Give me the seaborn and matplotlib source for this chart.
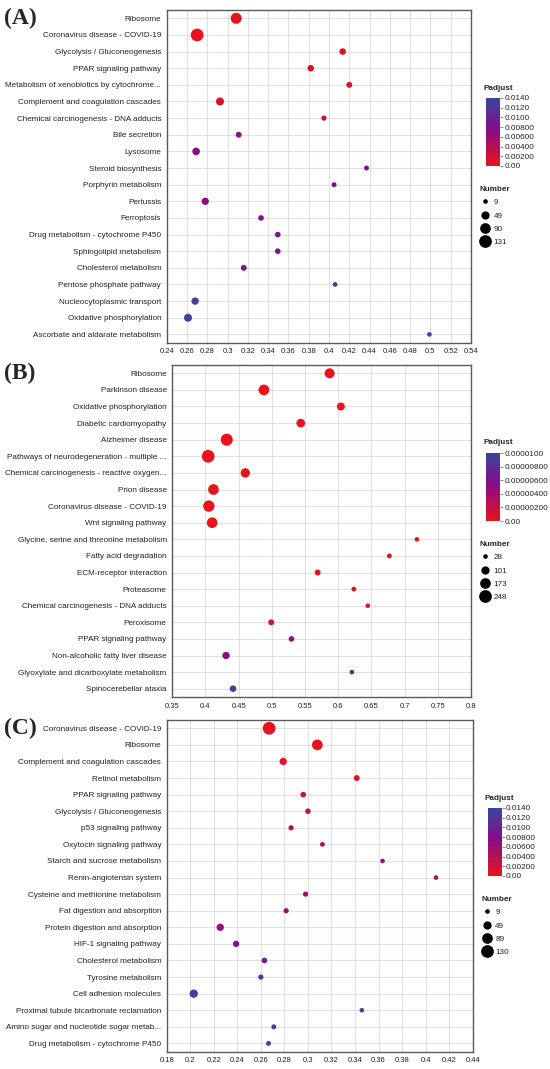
import numpy as np
import pandas as pd
import matplotlib
matplotlib.use("Agg")
import matplotlib.pyplot as plt
import seaborn as sns
from matplotlib.colors import LinearSegmentedColormap, Normalize
from matplotlib.cm import ScalarMappable
from matplotlib.lines import Line2D

sns.set_style("white")
plt.rcParams['font.family'] = ['Liberation Sans', 'DejaVu Sans']

# ---------------- data ----------------
terms_a = ["Ribosome", "Coronavirus disease - COVID-19", "Glycolysis / Gluconeogenesis",
           "PPAR signaling pathway", "Metabolism of xenobiotics by cytochrome...",
           "Complement and coagulation cascades", "Chemical carcinogenesis - DNA adducts",
           "Bile secretion", "Lysosome", "Steroid biosynthesis", "Porphyrin metabolism",
           "Pertussis", "Ferroptosis", "Drug metabolism - cytochrome P450",
           "Sphingolipid metabolism", "Cholesterol metabolism", "Pentose phosphate pathway",
           "Nucleocytoplasmic transport", "Oxidative phosphorylation",
           "Ascorbate and aldarate metabolism"]
ratio_a = [0.3085, 0.270, 0.4135, 0.382, 0.420, 0.2925, 0.395, 0.311, 0.269, 0.437,
           0.405, 0.278, 0.333, 0.3495, 0.3495, 0.316, 0.406, 0.268, 0.261, 0.499]
number_a = [96, 131, 28, 28, 21, 46, 14, 21, 41, 12, 12, 37, 18, 18, 18, 21, 10, 37, 46, 9]
padj_a = [0.0003, 0.0001, 0.0008, 0.0010, 0.0012, 0.0012, 0.0030, 0.0070, 0.0072, 0.0075,
          0.0077, 0.0076, 0.0080, 0.0085, 0.0085, 0.0095, 0.0128, 0.0130, 0.0135, 0.0138]
xticks_a = [0.24, 0.26, 0.28, 0.30, 0.32, 0.34, 0.36, 0.38, 0.40, 0.42, 0.44, 0.46,
            0.48, 0.50, 0.52, 0.54]
cbar_ticks_a = [0.0, 0.002, 0.004, 0.006, 0.008, 0.010, 0.012, 0.014]
cbar_labels_a = ["0.00", "0.00200", "0.00400", "0.00600", "0.00800", "0.0100", "0.0120", "0.0140"]
size_legend_a = [9, 49, 90, 131]

terms_b = ["Ribosome", "Parkinson disease", "Oxidative phosphorylation",
           "Diabetic cardiomyopathy", "Alzheimer disease",
           "Pathways of neurodegeneration - multiple ...",
           "Chemical carcinogenesis - reactive oxygen...", "Prion disease",
           "Coronavirus disease - COVID-19", "Wnt signaling pathway",
           "Glycine, serine and threonine metabolism", "Fatty acid degradation",
           "ECM-receptor interaction", "Proteasome", "Chemical carcinogenesis - DNA adducts",
           "Peroxisome", "PPAR signaling pathway", "Non-alcoholic fatty liver disease",
           "Glyoxylate and dicarboxylate metabolism", "Spinocerebellar ataxia"]
ratio_b = [0.587, 0.488, 0.604, 0.5435, 0.432, 0.404, 0.460, 0.412, 0.405, 0.410,
           0.7185, 0.677, 0.569, 0.6235, 0.6445, 0.499, 0.5295, 0.431, 0.6205, 0.4415]
number_b = [151, 174, 94, 112, 221, 248, 131, 174, 196, 174, 28, 33, 50, 30, 28, 50, 44, 79, 28, 63]
padj_b = [1e-9, 1e-9, 1e-9, 2e-8, 1e-9, 1e-9, 1e-8, 1e-9, 1e-9, 5e-9,
          1e-7, 2e-7, 3e-7, 3e-7, 5e-7, 1.0e-6, 5.0e-6, 5.5e-6, 7.5e-6, 9.5e-6]
xticks_b = [0.35, 0.40, 0.45, 0.50, 0.55, 0.60, 0.65, 0.70, 0.75, 0.80]
cbar_ticks_b = [0.0, 2e-6, 4e-6, 6e-6, 8e-6, 1e-5]
cbar_labels_b = ["0.00", "0.00000200", "0.00000400", "0.00000600", "0.00000800", "0.0000100"]
size_legend_b = [28, 101, 173, 248]

terms_c = ["Coronavirus disease - COVID-19", "Ribosome", "Complement and coagulation cascades",
           "Retinol metabolism", "PPAR signaling pathway", "Glycolysis / Gluconeogenesis",
           "p53 signaling pathway", "Oxytocin signaling pathway",
           "Starch and sucrose metabolism", "Renin-angiotensin system",
           "Cysteine and methionine metabolism", "Fat digestion and absorption",
           "Protein digestion and absorption", "HIF-1 signaling pathway",
           "Cholesterol metabolism", "Tyrosine metabolism", "Cell adhesion molecules",
           "Proximal tubule bicarbonate reclamation",
           "Amino sugar and nucleotide sugar metab...", "Drug metabolism - cytochrome P450"]
ratio_c = [0.267, 0.308, 0.279, 0.3415, 0.296, 0.300, 0.2857, 0.3123, 0.3634, 0.4088,
           0.298, 0.2815, 0.2255, 0.239, 0.263, 0.260, 0.203, 0.3458, 0.271, 0.2665]
number_c = [130, 89, 37, 21, 18, 18, 14, 10, 9, 9, 14, 14, 37, 25, 18, 14, 50, 9, 12, 12]
padj_c = [0.0001, 0.0002, 0.0006, 0.0008, 0.0022, 0.0025, 0.0042, 0.0050, 0.0055, 0.0055,
          0.0058, 0.0060, 0.0060, 0.0085, 0.0095, 0.0120, 0.0128, 0.0130, 0.0133, 0.0136]
xticks_c = [0.18, 0.20, 0.22, 0.24, 0.26, 0.28, 0.30, 0.32, 0.34, 0.36, 0.38, 0.40, 0.42, 0.44]
size_legend_c = [9, 49, 89, 130]

# reds -> purple -> blue, purple sits a bit above the middle
cmap = LinearSegmentedColormap.from_list(
    "padj", [(0.0, "#e8131c"), (0.55, "#860c8a"), (1.0, "#36489e")], N=256)

W, H = 550, 1069
SIZES = (11, 84)
FS = 5.9
LFS = 5.9

fig = plt.figure(figsize=(W / 100, H / 100), dpi=100)


def fx(px):
    return px / W


def fy(py):
    return 1 - py / H


def draw_panel(label, terms, ratio, number, padj, xticks, vmax, cticks, clabels,
               size_leg, left, right, top, bottom):
    df = pd.DataFrame({"term": terms, "ratio": ratio, "number": number, "padj": padj})
    ax = fig.add_axes([fx(left), fy(bottom), fx(right - left), (bottom - top) / H])
    nmin, nmax = size_leg[0], size_leg[-1]
    sns.scatterplot(data=df, x="ratio", y="term", hue="padj", palette=cmap,
                    hue_norm=(0, vmax), size="number", sizes=SIZES,
                    size_norm=(nmin, nmax), legend=False, edgecolor="none",
                    linewidth=0, ax=ax, zorder=3)
    ax.set_ylim(len(terms) - 0.5, -0.5)
    ax.set_xlim(xticks[0], xticks[-1])
    ax.set_xticks(xticks)
    ax.set_xticklabels([f"{t:g}" for t in xticks])
    ax.set_xlabel("")
    ax.set_ylabel("")
    ax.grid(True, color="#e0e0e0", lw=0.8)
    ax.set_axisbelow(True)
    for sp in ax.spines.values():
        sp.set_color("#5a5a5a")
        sp.set_linewidth(1.0)
    ax.tick_params(axis="y", labelsize=FS, length=2.5, width=0.8, pad=1.5,
                   colors="#5a5a5a", labelcolor="#222222")
    ax.tick_params(axis="x", labelsize=5.5, length=2.5, width=0.8, pad=1.5,
                   colors="#5a5a5a", labelcolor="#222222")

    # panel tag
    fig.text(fx(4), fy(top + 14.5), label, family=["Liberation Serif", "DejaVu Serif"],
             fontweight="bold", fontsize=17, va="baseline", ha="left")

    # colour bar
    cx = right + 15
    fig.text(fx(cx - 3), fy(top + 78), "Padjust", fontsize=LFS, fontweight="bold",
             va="center", ha="left")
    cax = fig.add_axes([fx(cx), fy(top + 156), fx(14), 68 / H])
    sm = ScalarMappable(norm=Normalize(0, vmax), cmap=cmap)
    cb = fig.colorbar(sm, cax=cax)
    cb.outline.set_visible(False)
    cb.set_ticks(cticks)
    cb.set_ticklabels(clabels)
    cax.tick_params(labelsize=LFS, length=2, width=0.6, pad=1, colors="#777777",
                    labelcolor="#222222")

    # size legend
    handles = []
    for n in size_leg:
        s = SIZES[0] + (n - nmin) / (nmax - nmin) * (SIZES[1] - SIZES[0])
        handles.append(Line2D([], [], marker="o", ls="none", color="black",
                              markersize=np.sqrt(s), markeredgewidth=0))
    leg = fig.legend(handles, [str(n) for n in size_leg], title="Number",
                     loc="upper left", bbox_to_anchor=(fx(cx - 6), fy(top + 176)),
                     frameon=False, fontsize=LFS, title_fontsize=LFS,
                     handlelength=1.2, handletextpad=0.45, labelspacing=0.68,
                     borderaxespad=0, borderpad=0)
    leg.get_title().set_fontweight("bold")
    leg._legend_box.align = "left"
    for t in leg.get_texts():
        t.set_color("#222222")
    return ax


draw_panel("(A)", terms_a, ratio_a, number_a, padj_a, xticks_a, 0.014,
           cbar_ticks_a, cbar_labels_a, size_legend_a, 166.7, 471, 10, 342.7)
draw_panel("(B)", terms_b, ratio_b, number_b, padj_b, xticks_b, 1e-5,
           cbar_ticks_b, cbar_labels_b, size_legend_b, 172.3, 471, 365, 697)
draw_panel("(C)", terms_c, ratio_c, number_c, padj_c, xticks_c, 0.014,
           cbar_ticks_a, cbar_labels_a, size_legend_c, 166.7, 472.7, 720, 1051.7)

fig.savefig("out.png", dpi=100)
